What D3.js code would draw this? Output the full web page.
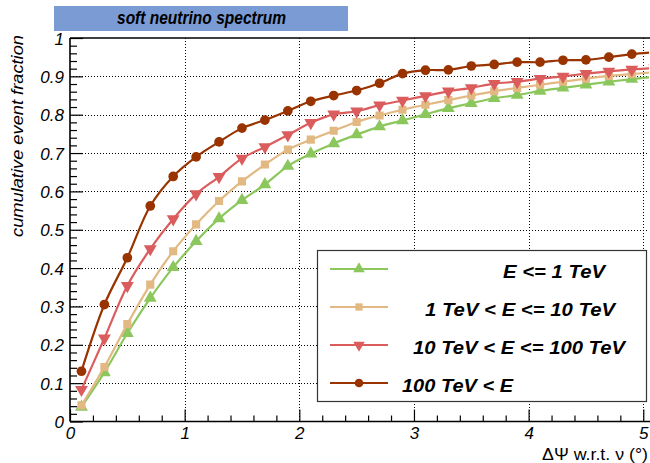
<!DOCTYPE html>
<html>
<head>
<meta charset="utf-8">
<script src="https://cdn.jsdelivr.net/npm/d3@7"></script>
<style>
  html, body { margin: 0; padding: 0; background: #fff; }
  svg { display: block; }
  text { font-family: "Liberation Sans", Arial, Helvetica, sans-serif; }
</style>
</head>
<body>
<div id="chart"></div>
<script>
// Opening angle bins (degrees); the last bin sits just beyond the frame edge
const angles = [0.1, 0.3, 0.5, 0.7, 0.9, 1.1, 1.3, 1.5, 1.7, 1.9, 2.1, 2.3, 2.5,
                2.7, 2.9, 3.1, 3.3, 3.5, 3.7, 3.9, 4.1, 4.3, 4.5, 4.7, 4.9, 5.1];

// Cumulative event fraction per energy bin
const fracLow = [0.038, 0.128, 0.230, 0.322, 0.402, 0.470, 0.529, 0.577, 0.618, 0.666, 0.698, 0.725, 0.748,
                 0.769, 0.785, 0.801, 0.817, 0.830, 0.843, 0.851, 0.862, 0.870, 0.878, 0.886, 0.893, 0.899];
const fracMid = [0.042, 0.142, 0.254, 0.357, 0.444, 0.514, 0.575, 0.626, 0.670, 0.709, 0.735, 0.758, 0.781,
                 0.798, 0.813, 0.826, 0.838, 0.850, 0.861, 0.870, 0.878, 0.886, 0.894, 0.901, 0.906, 0.911];
const fracHigh = [0.083, 0.217, 0.354, 0.450, 0.528, 0.593, 0.638, 0.686, 0.716, 0.747, 0.779, 0.801, 0.809,
                  0.825, 0.837, 0.849, 0.861, 0.870, 0.881, 0.886, 0.894, 0.900, 0.907, 0.913, 0.918, 0.922];
const fracTop = [0.131, 0.305, 0.427, 0.562, 0.639, 0.690, 0.729, 0.765, 0.786, 0.810, 0.835, 0.850, 0.863,
                 0.882, 0.907, 0.916, 0.917, 0.927, 0.931, 0.937, 0.937, 0.942, 0.943, 0.950, 0.958, 0.963];

const seriesLabels = ["E <= 1 TeV", "1 TeV < E <= 10 TeV", "10 TeV < E <= 100 TeV", "100 TeV < E"];

const yTickValues = [0, 0.1, 0.2, 0.3, 0.4, 0.5, 0.6, 0.7, 0.8, 0.9, 1];
const yTickLabels = ["0", "0.1", "0.2", "0.3", "0.4", "0.5", "0.6", "0.7", "0.8", "0.9", "1"];
const xTickValues = [0, 1, 2, 3, 4, 5];
const xTickLabels = ["0", "1", "2", "3", "4", "5"];

const titleText = "soft neutrino spectrum";
const yTitle = "cumulative event fraction";
const xTitle = "\u0394\u03A8 w.r.t. \u03BD (\u00B0)";

// ---- styling per series ----
const seriesStyle = [
  { color: "#8cc75e", marker: d3.symbolTriangle, size: 72, rot: 0 },
  { color: "#e2b883", marker: d3.symbolSquare, size: 66, rot: 0 },
  { color: "#db5c5c", marker: d3.symbolTriangle, size: 72, rot: 180 },
  { color: "#993300", marker: d3.symbolCircle, size: 74, rot: 0 }
];
const seriesData = [fracLow, fracMid, fracHigh, fracTop];

// legend label placement: [start x, stretched width]
const legendText = [[503, 102], [425, 190], [413, 212], [402, 111]];

const W = 650, H = 463;
const plot = { left: 70, right: 649, top: 38, bottom: 421.5 };

const svg = d3.select("#chart").append("svg")
  .attr("width", W).attr("height", H)
  .attr("viewBox", `0 0 ${W} ${H}`);

const x = d3.scaleLinear().domain([0, 5.05]).range([plot.left, plot.right]);
const y = d3.scaleLinear().domain([0, 1]).range([plot.bottom, plot.top]);

svg.append("defs").append("clipPath").attr("id", "frame")
  .append("rect")
  .attr("x", plot.left).attr("y", plot.top - 6)
  .attr("width", plot.right - plot.left).attr("height", plot.bottom - plot.top + 6);

// ---- title box ----
svg.append("rect")
  .attr("x", 54).attr("y", 6).attr("width", 294).attr("height", 25)
  .attr("fill", "#7b9bd4");
svg.append("text")
  .attr("x", 117).attr("y", 24)
  .attr("font-size", 19).attr("font-weight", "bold").attr("font-style", "italic")
  .attr("textLength", 169).attr("lengthAdjust", "spacingAndGlyphs")
  .attr("fill", "#000")
  .text(titleText);

// ---- dotted grid ----
const grid = svg.append("g").attr("stroke", "#000").attr("stroke-width", 1)
  .attr("stroke-dasharray", "1,2").attr("fill", "none");
grid.selectAll("line.gy").data(yTickValues.filter(v => v > 0 && v < 1)).join("line")
  .attr("x1", plot.left).attr("x2", plot.right)
  .attr("y1", d => Math.round(y(d)) + 0.5).attr("y2", d => Math.round(y(d)) + 0.5);
grid.selectAll("line.gx").data(xTickValues.filter(v => v > 0)).join("line")
  .attr("y1", plot.top).attr("y2", plot.bottom)
  .attr("x1", d => Math.round(x(d)) + 0.5).attr("x2", d => Math.round(x(d)) + 0.5);

// ---- axes (ROOT-style inward ticks) ----
const yAxis = d3.axisLeft(y)
  .tickValues(d3.range(0, 1.0001, 0.02))
  .tickSize(0).tickFormat("");
const yAxisG = svg.append("g").attr("transform", `translate(${plot.left},0)`).call(yAxis);
yAxisG.select(".domain").remove();
yAxisG.selectAll(".tick line")
  .attr("x2", (d, i) => (i % 5 === 0 ? 13 : 7))
  .attr("stroke", "#000").attr("stroke-width", 1.2);

const yLabels = d3.axisLeft(y).tickValues(yTickValues)
  .tickSize(0).tickPadding(6).tickFormat((d, i) => yTickLabels[i]);
const yLabG = svg.append("g").attr("transform", `translate(${plot.left},0)`).call(yLabels);
yLabG.select(".domain").remove();
yLabG.selectAll(".tick text")
  .attr("font-family", "'Liberation Sans', Arial, sans-serif")
  .attr("font-size", 17).attr("font-style", "italic").attr("fill", "#000")
  .attr("dy", "0.36em");

const xAxis = d3.axisBottom(x)
  .tickValues(d3.range(0, 5.0001, 0.2))
  .tickSize(0).tickFormat("");
const xAxisG = svg.append("g").attr("transform", `translate(0,${plot.bottom})`).call(xAxis);
xAxisG.select(".domain").remove();
xAxisG.selectAll(".tick line")
  .attr("y2", (d, i) => (i % 5 === 0 ? -12 : -6))
  .attr("stroke", "#000").attr("stroke-width", 1.2);

const xLabels = d3.axisBottom(x).tickValues(xTickValues)
  .tickSize(0).tickPadding(0).tickFormat((d, i) => xTickLabels[i]);
const xLabG = svg.append("g").attr("transform", `translate(0,${plot.bottom})`).call(xLabels);
xLabG.select(".domain").remove();
xLabG.selectAll(".tick text")
  .attr("font-family", "'Liberation Sans', Arial, sans-serif")
  .attr("font-size", 17).attr("font-style", "italic").attr("fill", "#000")
  .attr("dy", null).attr("y", 17.5);

// frame lines
svg.append("line").attr("x1", plot.left).attr("x2", plot.left)
  .attr("y1", plot.top).attr("y2", plot.bottom).attr("stroke", "#000").attr("stroke-width", 1.6);
svg.append("line").attr("x1", plot.left).attr("x2", W)
  .attr("y1", plot.bottom).attr("y2", plot.bottom).attr("stroke", "#000").attr("stroke-width", 1.6);
svg.append("line").attr("x1", plot.left).attr("x2", W)
  .attr("y1", plot.top).attr("y2", plot.top).attr("stroke", "#000").attr("stroke-width", 1.6);

// ---- axis titles ----
svg.append("text")
  .attr("transform", "translate(23,237) rotate(-90)")
  .attr("font-size", 16).attr("font-style", "italic").attr("fill", "#000")
  .attr("textLength", 202).attr("lengthAdjust", "spacingAndGlyphs")
  .text(yTitle);

svg.append("text")
  .attr("x", 542).attr("y", 459.5)
  .attr("font-family", "'Liberation Serif', 'Times New Roman', serif")
  .attr("font-size", 16.5).attr("fill", "#000")
  .attr("textLength", 106).attr("lengthAdjust", "spacingAndGlyphs")
  .text(xTitle);

// ---- curves and markers ----
const plotG = svg.append("g").attr("clip-path", "url(#frame)");
const line = d3.line()
  .x(d => x(d[0])).y(d => y(d[1]))
  .curve(d3.curveCatmullRom.alpha(0.5));

seriesData.forEach((vals, s) => {
  const pts = angles.map((a, i) => [a, vals[i]]);
  const st = seriesStyle[s];
  const g = plotG.append("g");
  g.append("path").datum(pts)
    .attr("d", line).attr("fill", "none")
    .attr("stroke", st.color).attr("stroke-width", 2.2);
  g.selectAll("path.m").data(pts).join("path")
    .attr("class", "m")
    .attr("transform", d => `translate(${x(d[0])},${y(d[1])}) rotate(${st.rot})`)
    .attr("d", d3.symbol().type(st.marker).size(st.size)())
    .attr("fill", st.color);
});

// ---- legend ----
const leg = svg.append("g");
leg.append("rect")
  .attr("x", 317.5).attr("y", 250.5).attr("width", 329).attr("height", 151)
  .attr("fill", "#fff").attr("stroke", "#333").attr("stroke-width", 1.2);
const rowY = d3.scalePoint().domain(d3.range(seriesLabels.length)).range([269, 383]);
seriesLabels.forEach((label, i) => {
  const st = seriesStyle[i];
  const cy = rowY(i);
  leg.append("line").attr("x1", 330).attr("x2", 388).attr("y1", cy).attr("y2", cy)
    .attr("stroke", st.color).attr("stroke-width", 2);
  leg.append("path")
    .attr("transform", `translate(359,${cy}) rotate(${st.rot})`)
    .attr("d", d3.symbol().type(st.marker).size(st.size * 0.8)())
    .attr("fill", st.color);
  leg.append("text")
    .attr("x", legendText[i][0]).attr("y", cy + 8.5)
    .attr("font-size", 17.5).attr("font-weight", "bold").attr("font-style", "italic")
    .attr("textLength", legendText[i][1]).attr("lengthAdjust", "spacingAndGlyphs")
    .attr("fill", "#000")
    .text(label);
});
</script>
</body>
</html>
